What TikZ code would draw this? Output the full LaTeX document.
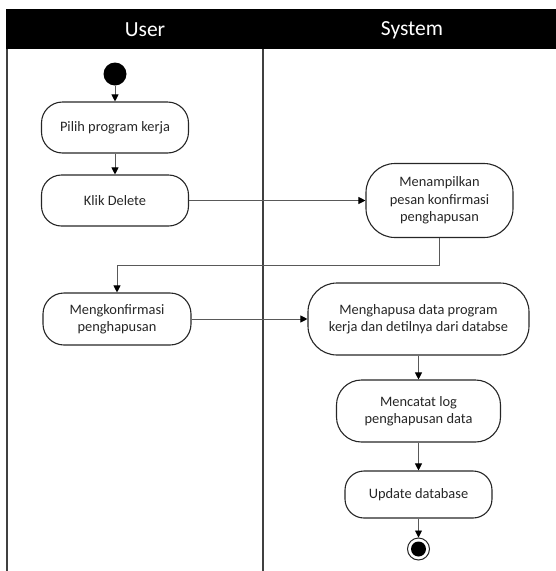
\documentclass[tikz,border=0pt]{standalone}
\usepackage{fontspec}
\setmainfont{Carlito}
\usetikzlibrary{arrows.meta}
\begin{document}
\begin{tikzpicture}[x=1pt,y=-1pt,
  act/.style={draw=black!85, line width=1.1pt, rounded corners=#1, inner sep=0pt, align=center, text=black!85, font=\fontsize{14.4}{17.5}\selectfont},
  flow/.style={draw=black!65, line width=0.9pt, -{Triangle[width=7pt,length=7pt,color=black]}},
  lane/.style={draw=black!75, line width=1.6pt},
  hdr/.style={text=white, font=\fontsize{21.5}{25}\selectfont}]
\useasboundingbox (0,0) rectangle (556,571);
\fill[black] (6,9) rectangle (556,49);
\node[hdr] (hu) at (145,30) {User};
\node[hdr] (hs) at (412,30) {System};
\draw[lane] (7,49) -- (7,571);
\draw[lane] (263,49) -- (263,571);

\node[fill=black, circle, minimum size=23pt, inner sep=0pt] (start) at (115,74) {};
\node[act=21pt, minimum width=147pt, minimum height=51pt] (pilih) at (115,127.5) {Pilih program kerja};
\node[act=20pt, minimum width=147pt, minimum height=51pt] (klik) at (115,200.5) {Klik Delete};
\node[act=29pt, minimum width=147pt, minimum height=74pt] (tampil) at (439.5,200.5) {Menampilkan\\pesan konfirmasi\\penghapusan};
\node[act=21pt, minimum width=148pt, minimum height=52pt] (konf) at (117,319) {Mengkonfirmasi\\penghapusan};
\node[act=29pt, minimum width=221pt, minimum height=72pt] (hapus) at (418.5,319) {Menghapusa data program\\kerja dan detilnya dari databse};
\node[act=25pt, minimum width=164pt, minimum height=62pt] (catat) at (418.5,411) {Mencatat log\\penghapusan data};
\node[act=19pt, minimum width=147pt, minimum height=47pt] (upd) at (418.5,494.5) {Update database};
\node[circle, draw=black!85, line width=1pt, minimum size=22pt, inner sep=0pt] (end) at (418.5,549) {};
\fill (end) circle (7.5);

\draw[flow] (start) -- (pilih);
\draw[flow] (pilih) -- (klik);
\draw[flow] (klik) -- (tampil);
\coordinate (b1) at (439.5,265);
\draw[flow] (tampil.south) -- (b1) -| (konf.north);
\draw[flow] (konf) -- (hapus);
\draw[flow] (hapus) -- (catat);
\draw[flow] (catat) -- (upd);
\draw[flow] (upd) -- (end);
\end{tikzpicture}
\end{document}
